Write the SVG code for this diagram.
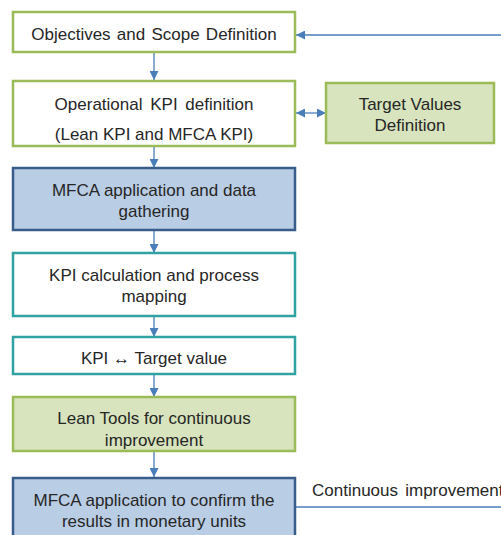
<svg xmlns="http://www.w3.org/2000/svg" width="501" height="535" viewBox="0 0 501 535">
  <style>
    .lbl { font-family: "Liberation Sans", Arial, sans-serif; font-size: 17px; fill: #262626; text-anchor: middle; }
    .box-green { fill: #ffffff; stroke: #9bbb59; stroke-width: 2.5; }
    .box-greenfill { fill: #d7e4bd; stroke: #9bbb59; stroke-width: 2.5; }
    .box-blue { fill: #b9cde5; stroke: #385d8a; stroke-width: 2.5; }
    .box-teal { fill: #ffffff; stroke: #31a2a2; stroke-width: 2.5; }
    .conn { fill: none; stroke: #4a7ebb; stroke-width: 1.3; }
  </style>
  <defs>
    <marker id="tri" viewBox="0 0 10 10" refX="10" refY="5" markerWidth="9" markerHeight="9" markerUnits="userSpaceOnUse" orient="auto-start-reverse">
      <path d="M0,0 L10,5 L0,10 Z" fill="#4a7ebb"/>
    </marker>
  </defs>
  <rect width="501" height="535" fill="#ffffff"/>

  <g id="connectors">
    <line class="conn" x1="154" y1="53" x2="154" y2="80" marker-end="url(#tri)"/>
    <line class="conn" x1="154" y1="147" x2="154" y2="168" marker-end="url(#tri)"/>
    <line class="conn" x1="154" y1="231" x2="154" y2="253" marker-end="url(#tri)"/>
    <line class="conn" x1="154" y1="317" x2="154" y2="337" marker-end="url(#tri)"/>
    <line class="conn" x1="154" y1="375" x2="154" y2="397" marker-end="url(#tri)"/>
    <line class="conn" x1="154" y1="451" x2="154" y2="477" marker-end="url(#tri)"/>
    <line class="conn" x1="296" y1="113" x2="326" y2="113" marker-start="url(#tri)" marker-end="url(#tri)"/>
    <!-- feedback loop: leaves the last step, runs up the right margin, re-enters the first step -->
    <path class="conn" d="M295,507 H512 V35 H296" marker-end="url(#tri)"/>
    <text class="lbl" x="312" y="496" style="text-anchor:start" word-spacing="2.5">Continuous improvement</text>
  </g>

  <g id="objectives">
    <rect class="box-green" x="13" y="12" width="282" height="40"/>
    <text class="lbl" x="154" y="40" word-spacing="1.5">Objectives and Scope Definition</text>
  </g>
  <g id="operational-kpi">
    <rect class="box-green" x="13" y="81" width="282" height="65"/>
    <text class="lbl" x="154" y="110" word-spacing="3">Operational KPI definition</text>
    <text class="lbl" x="154" y="140">(Lean KPI and MFCA KPI)</text>
  </g>
  <g id="target-values">
    <rect class="box-greenfill" x="326" y="83" width="168" height="60"/>
    <text class="lbl" x="410" y="110">Target Values</text>
    <text class="lbl" x="410" y="131">Definition</text>
  </g>
  <g id="mfca-gathering">
    <rect class="box-blue" x="13" y="168" width="282" height="62"/>
    <text class="lbl" x="154" y="196">MFCA application and data</text>
    <text class="lbl" x="154" y="217">gathering</text>
  </g>
  <g id="kpi-calculation">
    <rect class="box-teal" x="13" y="253" width="282" height="63"/>
    <text class="lbl" x="154" y="281">KPI calculation and process</text>
    <text class="lbl" x="154" y="302">mapping</text>
  </g>
  <g id="kpi-target">
    <rect class="box-teal" x="13" y="337" width="282" height="37"/>
    <text class="lbl" x="154" y="364">KPI ↔ Target value</text>
  </g>
  <g id="lean-tools">
    <rect class="box-greenfill" x="13" y="397" width="282" height="54"/>
    <text class="lbl" x="154" y="424">Lean Tools for continuous</text>
    <text class="lbl" x="154" y="446">improvement</text>
  </g>
  <g id="mfca-confirm">
    <rect class="box-blue" x="13" y="478" width="282" height="70"/>
    <text class="lbl" x="154" y="506">MFCA application to confirm the</text>
    <text class="lbl" x="154" y="527">results in monetary units</text>
  </g>
</svg>
